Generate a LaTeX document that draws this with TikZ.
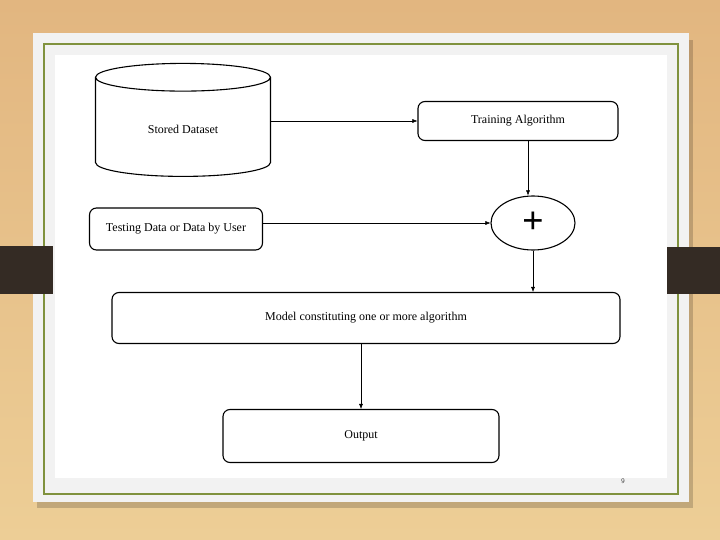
\documentclass[tikz,border=0pt]{standalone}
\usepackage{fontspec}
\setmainfont{Liberation Serif}
\usetikzlibrary{shapes.geometric, positioning, arrows.meta, calc}
\definecolor{woodtop}{RGB}{226,182,128}
\definecolor{woodbot}{RGB}{237,206,150}
\definecolor{cardgray}{RGB}{242,242,242}
\definecolor{olivo}{RGB}{128,146,62}
\definecolor{pestana}{RGB}{52,43,36}
\begin{document}
\begin{tikzpicture}[x=1pt, y=-1pt, >=Latex,
        caja/.style={rectangle, rounded corners=7pt, draw, line width=1.1pt, align=center, font=\fontsize{12}{14}\selectfont},
        datos/.style={cylinder, shape border rotate=90, draw, line width=1.1pt, aspect=0.36, minimum width=175pt, minimum height=113pt, font=\fontsize{12}{14}\selectfont},
        suma/.style={ellipse, draw, line width=1.1pt, minimum width=84pt, minimum height=54pt, inner sep=0pt},
        flecha/.style={-{Latex[length=5pt,width=4pt]}, line width=0.5pt}
    ]
        % Fondo de madera y tarjeta
        \fill[top color=woodtop, bottom color=woodbot] (0,0) rectangle (720,540);
        \fill[black, opacity=0.18] (37,40) rectangle (693,508);
        \fill[cardgray] (33,33) rectangle (689,502);
        \draw[olivo, line width=2.5pt] (44,44) rectangle (678,494);
        \fill[white] (55,55) rectangle (667,478);
        \fill[pestana] (0,246) rectangle (53,294);
        \fill[pestana] (667,247) rectangle (720,294);

        % Nodos
        \node[datos] (dataset) at (183,129) {Stored Dataset};
        \node[caja, minimum width=200pt, minimum height=39pt] (train) at (518,121) {Training Algorithm};
        \node[suma] (plus) at (533,223) {\fontsize{38}{38}\selectfont\bfseries\raisebox{-2pt}{+}};
        \node[caja, minimum width=173pt, minimum height=42pt] (test) at (176,229) {Testing Data or Data by User};
        \node[caja, minimum width=508pt, minimum height=51pt] (model) at (366,318) {Model constituting one or more algorithm};
        \node[caja, minimum width=276pt, minimum height=53pt] (out) at (361,436) {Output};

        % Numero de pagina
        \node[font=\sffamily\fontsize{7}{7}\selectfont, text=black!70] (pagina) at (623,481) {9};

        % Flechas
        \draw[flecha] (dataset.east |- train.west) -- (train.west);
        \draw[flecha] ([xshift=10pt]train.south) -- ([xshift=10pt]train.south |- plus.north);
        \draw[flecha] (test.east |- plus.west) -- (plus.west);
        \draw[flecha] (plus.south) -- (plus.south |- model.north);
        \draw[flecha] (model.south -| out.north) -- (out.north);
    \end{tikzpicture}
\end{document}
